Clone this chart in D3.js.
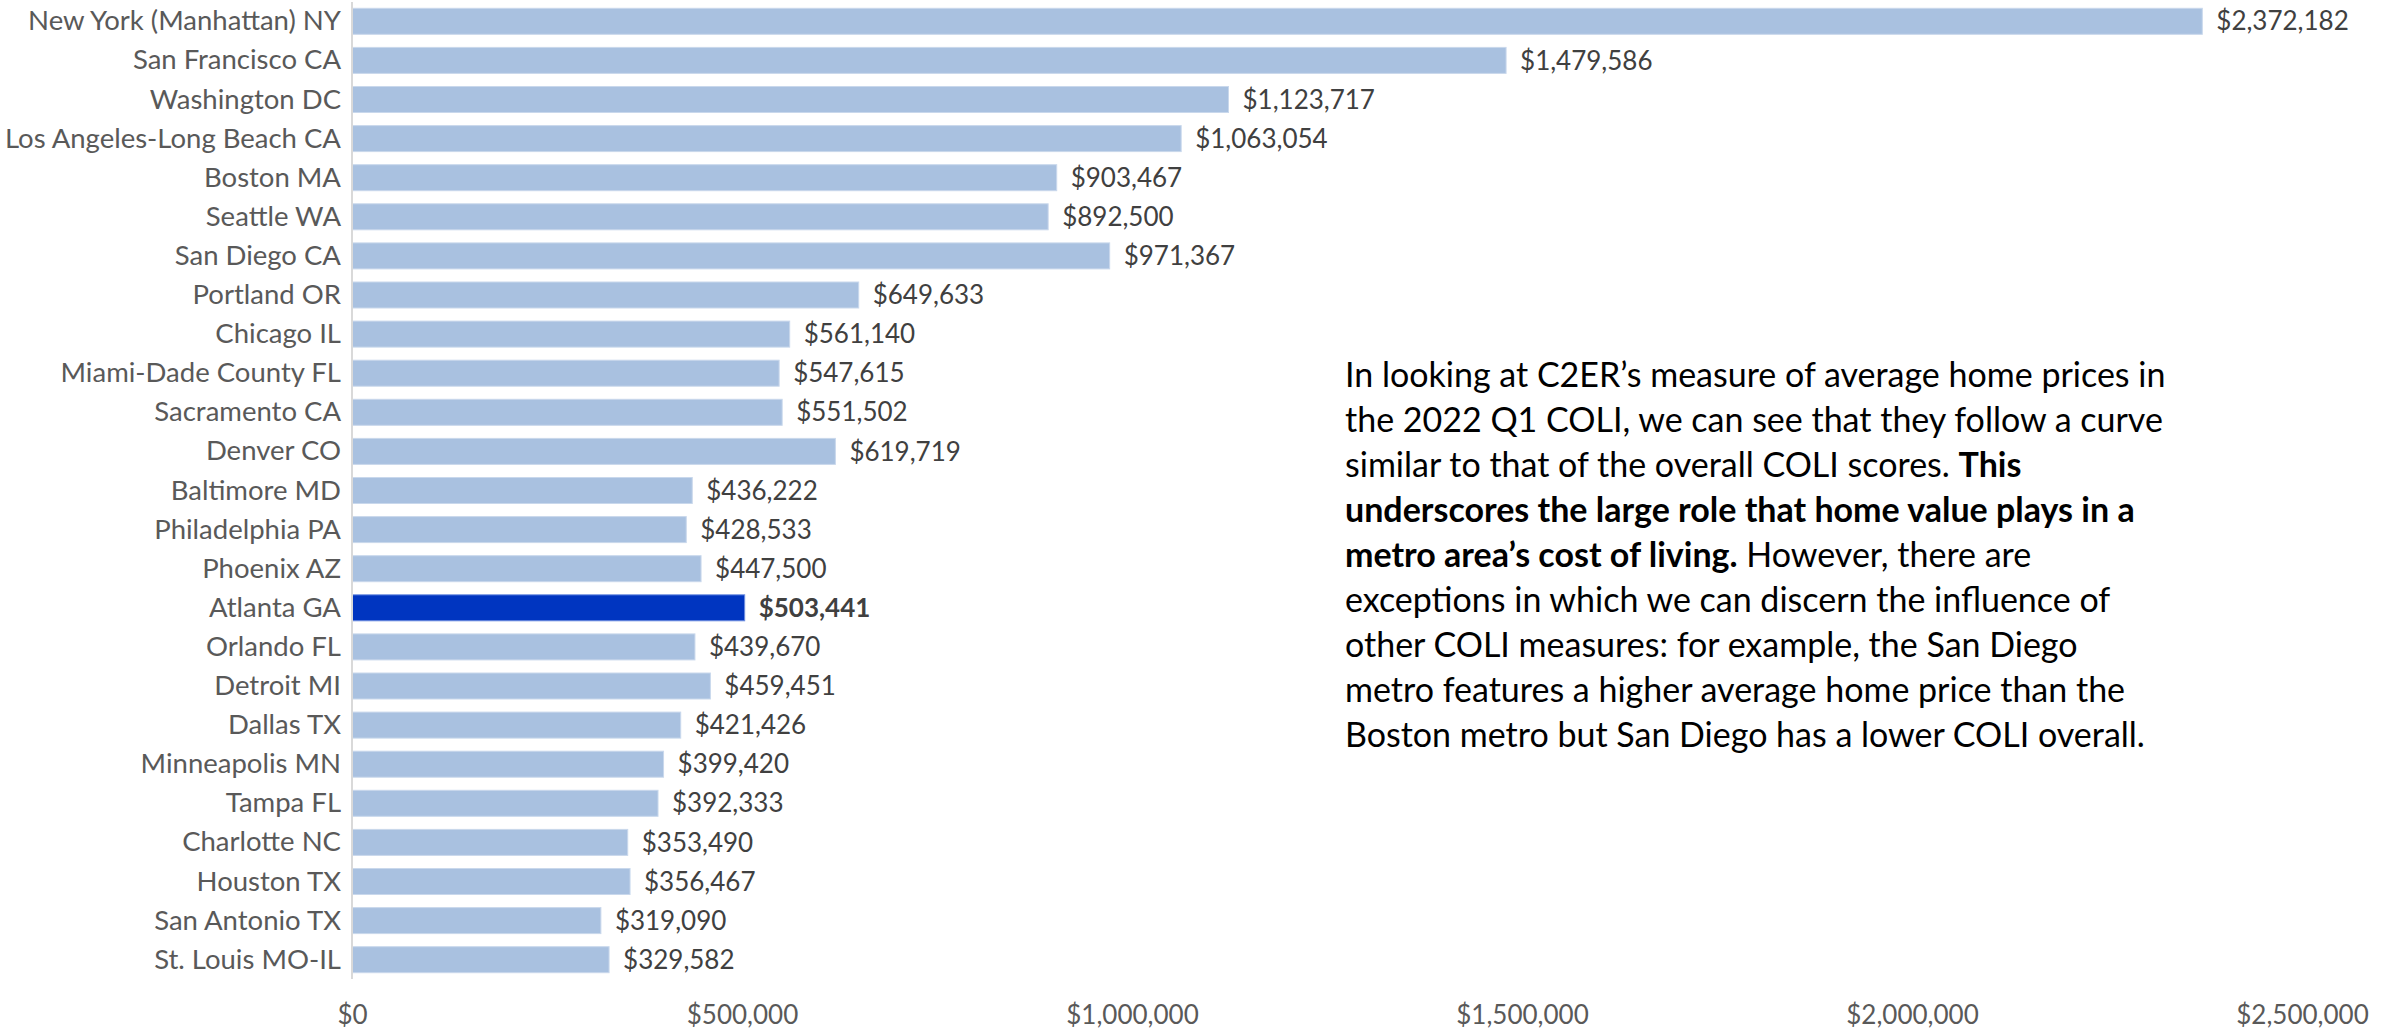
<!DOCTYPE html>
<html>
<head>
<meta charset="utf-8">
<script src="https://cdn.jsdelivr.net/npm/d3@7"></script>
<style>
  html, body { margin: 0; padding: 0; background: #ffffff; }
  svg { display: block; }
</style>
</head>
<body>
<svg id="chart" width="2391" height="1029"></svg>
<script>
const categories = [
  "New York (Manhattan) NY", "San Francisco CA", "Washington DC", "Los Angeles-Long Beach CA",
  "Boston MA", "Seattle WA", "San Diego CA", "Portland OR", "Chicago IL", "Miami-Dade County FL",
  "Sacramento CA", "Denver CO", "Baltimore MD", "Philadelphia PA", "Phoenix AZ", "Atlanta GA",
  "Orlando FL", "Detroit MI", "Dallas TX", "Minneapolis MN", "Tampa FL", "Charlotte NC",
  "Houston TX", "San Antonio TX", "St. Louis MO-IL"
];
const homePrices = [
  2372182, 1479586, 1123717, 1063054, 903467, 892500, 971367, 649633, 561140, 547615,
  551502, 619719, 436222, 428533, 447500, 503441, 439670, 459451, 421426, 399420,
  392333, 353490, 356467, 319090, 329582
];
const highlighted = ["Atlanta GA"];
const xTicks = [0, 500000, 1000000, 1500000, 2000000, 2500000];
const noteLines = [
  [["In looking at C2ER\u2019s measure of average home prices in", false]],
  [["the 2022 Q1 COLI, we can see that they follow a curve", false]],
  [["similar to that of the overall COLI scores. ", false], ["This", true]],
  [["underscores the large role that home value plays in a", true]],
  [["metro area\u2019s cost of living.", true], [" However, there are", false]],
  [["exceptions in which we can discern the influence of", false]],
  [["other COLI measures: for example, the San Diego", false]],
  [["metro features a higher average home price than the", false]],
  [["Boston metro but San Diego has a lower COLI overall.", false]]
];

const data = categories.map((c, i) => ({ name: c, value: homePrices[i] }));
const svg = d3.select("#chart");
const FONT = "Lato, 'Open Sans', sans-serif";

const x = d3.scaleLinear().domain([0, 2500000]).range([352, 2302]);
const y = d3.scaleBand().domain(categories).range([1.75, 979.25])
  .paddingInner(0.335).paddingOuter(0.1675);

const fmt = v => "$" + d3.format(",")(v);

// bars
svg.append("g").selectAll("rect").data(data).join("rect")
  .attr("x", x(0))
  .attr("y", d => y(d.name))
  .attr("width", d => x(d.value) - x(0))
  .attr("height", y.bandwidth())
  .attr("fill", d => highlighted.includes(d.name) ? "#0035C0" : "#A9C1E0")
  .attr("stroke", d => highlighted.includes(d.name) ? "#6F8FE0" : "#C9D8EC")
  .attr("stroke-width", 1);

// vertical axis line
svg.append("line")
  .attr("x1", x(0)).attr("x2", x(0))
  .attr("y1", 2).attr("y2", 979)
  .attr("stroke", "#D9D9D9").attr("stroke-width", 2);

// category labels
const yAxis = d3.axisLeft(y).tickSize(0).tickPadding(11);
const gy = svg.append("g").attr("transform", `translate(${x(0)},0)`).call(yAxis);
gy.select(".domain").remove();
gy.selectAll("text")
  .attr("font-family", FONT).attr("font-size", 27.5).attr("fill", "#595959")
  .attr("dy", "0.33em");

// x axis tick labels
const xAxis = d3.axisBottom(x).tickValues(xTicks).tickSize(0).tickPadding(0).tickFormat(fmt);
const gx = svg.append("g").attr("transform", "translate(0,1006)").call(xAxis);
gx.select(".domain").remove();
gx.selectAll("text")
  .attr("font-family", FONT).attr("font-size", 26).attr("fill", "#595959")
  .attr("dy", "0.71em");

// data labels
svg.append("g").selectAll("text").data(data).join("text")
  .attr("x", d => x(d.value) + 14)
  .attr("y", d => y(d.name) + y.bandwidth() / 2)
  .attr("dy", "0.35em")
  .attr("font-family", FONT).attr("font-size", 26)
  .attr("font-weight", d => highlighted.includes(d.name) ? 700 : 400)
  .attr("fill", "#404040")
  .text(d => fmt(d.value));

// annotation paragraph
const note = svg.append("text")
  .attr("font-family", FONT).attr("font-size", 34).attr("fill", "#000000");
noteLines.forEach((segs, i) => {
  segs.forEach((s, j) => {
    const t = note.append("tspan").text(s[0]).attr("font-weight", s[1] ? 700 : 400);
    if (j === 0) t.attr("x", 1345).attr("y", 387 + i * 45);
  });
});
</script>
</body>
</html>
